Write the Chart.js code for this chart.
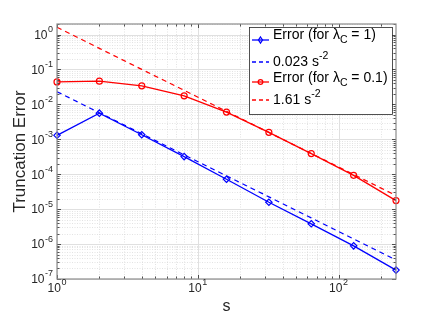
<!DOCTYPE html>
<html>
<head>
<meta charset="utf-8">
<script src="https://cdn.jsdelivr.net/npm/chart.js@4"></script>
<style>
  html, body { margin: 0; padding: 0; background: #fff; }
  #wrap { width: 437px; height: 315px; }
</style>
</head>
<body>
<div id="wrap"><canvas id="truncChart" width="437" height="315"></canvas></div>
<script>
// data
var sVals = [1, 2, 4, 8, 16, 32, 64, 128, 256];
var errLam1 = [1.3e-3, 5.6e-3, 1.35e-3, 3.2e-4, 7.2e-5, 1.58e-5, 3.8e-6, 8.9e-7, 1.8e-7];
var fitLam1 = [0.023, 5.75e-3, 1.44e-3, 3.59e-4, 8.98e-5, 2.25e-5, 5.6e-6, 1.4e-6, 3.5e-7];
var errLam01 = [0.044, 0.046, 0.034, 0.0176, 0.006, 1.58e-3, 3.9e-4, 9.3e-5, 1.76e-5];
var fitLam01 = [1.61, 0.4025, 0.1006, 0.0252, 6.29e-3, 1.57e-3, 3.93e-4, 9.83e-5, 2.46e-5];
var xDecades = [0, 1, 2];
var yDecades = [-7, -6, -5, -4, -3, -2, -1, 0];

var FONT = '"Liberation Sans", Arial, sans-serif';

function pts(ys) {
  var out = [];
  for (var i = 0; i < sVals.length; i++) out.push({x: sVals[i], y: ys[i]});
  return out;
}

// draws "10" with a raised exponent, anchored on its right or center
function powLabel(ctx, exp, x, y, align) {
  ctx.font = '12px ' + FONT;
  var base = '10';
  var bw = ctx.measureText(base).width;
  ctx.font = '9px ' + FONT;
  var ew = ctx.measureText(String(exp)).width;
  var total = bw + ew + 0.5;
  var left = align === 'right' ? x - total : x - total / 2;
  ctx.textBaseline = 'middle';
  ctx.textAlign = 'left';
  ctx.font = '12px ' + FONT;
  ctx.fillText(base, left, y);
  ctx.font = '9px ' + FONT;
  ctx.fillText(String(exp), left + bw + 0.5, y - 6);
}

// text with sub/sup pieces: parts = [[text, 'n'|'sub'|'sup'], ...]
function richText(ctx, parts, x, y) {
  ctx.textBaseline = 'middle';
  ctx.textAlign = 'left';
  var cx = x;
  parts.forEach(function(p) {
    var dy = 0;
    if (p[1] === 'n') ctx.font = '14px ' + FONT;
    else { ctx.font = '10.5px ' + FONT; dy = p[1] === 'sub' ? 5 : -6; }
    ctx.fillText(p[0], cx, y + dy);
    cx += ctx.measureText(p[0]).width;
  });
}

var matlabLook = {
  id: 'matlabLook',
  beforeDatasetsDraw: function(chart) {
    var ctx = chart.ctx, a = chart.chartArea;
    var xs = chart.scales.x, ys = chart.scales.y;
    ctx.save();
    // minor grid, dotted
    ctx.strokeStyle = '#d0d0d0';
    ctx.lineWidth = 0.6;
    ctx.setLineDash([1, 1.5]);
    xDecades.forEach(function(d) {
      for (var m = 2; m <= 9; m++) {
        var v = m * Math.pow(10, d);
        if (v >= xs.min && v <= xs.max) {
          var px = Math.round(xs.getPixelForValue(v)) + 0.5;
          ctx.beginPath(); ctx.moveTo(px, a.top); ctx.lineTo(px, a.bottom); ctx.stroke();
        }
      }
    });
    yDecades.forEach(function(d) {
      for (var m = 2; m <= 9; m++) {
        var v = m * Math.pow(10, d);
        if (v >= ys.min && v <= ys.max) {
          var py = Math.round(ys.getPixelForValue(v)) + 0.5;
          ctx.beginPath(); ctx.moveTo(a.left, py); ctx.lineTo(a.right, py); ctx.stroke();
        }
      }
    });
    // major grid
    ctx.setLineDash([]);
    ctx.strokeStyle = '#e0e0e0';
    ctx.lineWidth = 1;
    xDecades.forEach(function(d) {
      var px = Math.round(xs.getPixelForValue(Math.pow(10, d))) + 0.5;
      ctx.beginPath(); ctx.moveTo(px, a.top); ctx.lineTo(px, a.bottom); ctx.stroke();
    });
    yDecades.forEach(function(d) {
      var py = Math.round(ys.getPixelForValue(Math.pow(10, d))) + 0.5;
      ctx.beginPath(); ctx.moveTo(a.left, py); ctx.lineTo(a.right, py); ctx.stroke();
    });
    ctx.restore();
  },
  afterDatasetsDraw: function(chart) {
    var ctx = chart.ctx, a = chart.chartArea;
    var xs = chart.scales.x, ys = chart.scales.y;
    ctx.save();
    // ticks pointing inward on all sides
    ctx.strokeStyle = '#262626';
    ctx.lineWidth = 0.8;
    xDecades.forEach(function(d) {
      for (var m = 1; m <= 9; m++) {
        var v = m * Math.pow(10, d);
        if (v < xs.min || v > xs.max) continue;
        var len = m === 1 ? 4 : 2.5;
        var px = Math.round(xs.getPixelForValue(v)) + 0.5;
        ctx.beginPath();
        ctx.moveTo(px, a.bottom); ctx.lineTo(px, a.bottom - len);
        ctx.moveTo(px, a.top); ctx.lineTo(px, a.top + len);
        ctx.stroke();
      }
    });
    yDecades.forEach(function(d) {
      for (var m = 1; m <= 9; m++) {
        var v = m * Math.pow(10, d);
        if (v < ys.min || v > ys.max) continue;
        var len = m === 1 ? 4 : 2.5;
        var py = Math.round(ys.getPixelForValue(v)) + 0.5;
        ctx.beginPath();
        ctx.moveTo(a.left, py); ctx.lineTo(a.left + len, py);
        ctx.moveTo(a.right, py); ctx.lineTo(a.right - len, py);
        ctx.stroke();
      }
    });
    // axes box
    ctx.strokeStyle = '#8c8c8c';
    ctx.lineWidth = 1.2;
    ctx.strokeRect(a.left, a.top, a.right - a.left, a.bottom - a.top);

    // tick labels
    ctx.fillStyle = '#262626';
    xDecades.forEach(function(d) {
      powLabel(ctx, d, xs.getPixelForValue(Math.pow(10, d)), a.bottom + 10, 'center');
    });
    yDecades.forEach(function(d) {
      powLabel(ctx, d, a.left - 4, ys.getPixelForValue(Math.pow(10, d)) + 1, 'right');
    });

    // axis titles
    ctx.font = '16px ' + FONT;
    ctx.textAlign = 'center';
    ctx.textBaseline = 'middle';
    ctx.fillText('s', (a.left + a.right) / 2, 307);
    ctx.save();
    ctx.translate(20, (a.top + a.bottom) / 2);
    ctx.rotate(-Math.PI / 2);
    ctx.font = '17px ' + FONT;
    ctx.fillText('Truncation Error', 0, 0);
    ctx.restore();

    // legend box
    var lx = 249, ly = 27, lw = 143, lh = 87;
    ctx.fillStyle = '#fff';
    ctx.fillRect(lx, ly, lw, lh);
    ctx.strokeStyle = '#262626';
    ctx.lineWidth = 0.8;
    ctx.strokeRect(lx + 0.5, ly + 0.5, lw, lh);

    var rows = [
      {color: '#0000ff', dash: [], marker: 'diamond', y: 40, ty: 35,
       parts: [['Error (for ', 'n'], ['\u03bb', 'n'], ['C', 'sub'], [' = 1)', 'n']]},
      {color: '#0000ff', dash: [4, 3], marker: null, y: 62, ty: 62,
       parts: [['0.023 s', 'n'], ['-2', 'sup']]},
      {color: '#ff0000', dash: [], marker: 'circle', y: 82, ty: 78,
       parts: [['Error (for ', 'n'], ['\u03bb', 'n'], ['C', 'sub'], [' = 0.1)', 'n']]},
      {color: '#ff0000', dash: [4, 3], marker: null, y: 100, ty: 100,
       parts: [['1.61 s', 'n'], ['-2', 'sup']]}
    ];
    rows.forEach(function(r) {
      ctx.strokeStyle = r.color;
      ctx.lineWidth = 1.3;
      ctx.setLineDash(r.dash);
      ctx.beginPath();
      ctx.moveTo(lx + 3, r.y); ctx.lineTo(lx + 20, r.y);
      ctx.stroke();
      ctx.setLineDash([]);
      if (r.marker === 'diamond') {
        var cx = lx + 11.5;
        ctx.beginPath();
        ctx.moveTo(cx, r.y - 3); ctx.lineTo(cx + 2, r.y);
        ctx.lineTo(cx, r.y + 3); ctx.lineTo(cx - 2, r.y); ctx.closePath();
        ctx.stroke();
      } else if (r.marker === 'circle') {
        ctx.beginPath();
        ctx.arc(lx + 11.5, r.y, 2.3, 0, Math.PI * 2);
        ctx.stroke();
      }
      ctx.fillStyle = '#000';
      richText(ctx, r.parts, lx + 24, r.ty);
    });
    ctx.restore();
  }
};

function noSize(scale) {
  if (scale.isHorizontal()) scale.height = 0; else scale.width = 0;
}

var ctx = document.getElementById('truncChart');
var truncChart = new Chart(ctx, {
  type: 'line',
  data: {
    datasets: [
      {
        label: 'Error (for lambda_C = 1)',
        data: pts(errLam1),
        borderColor: '#0000ff',
        backgroundColor: 'rgba(0,0,0,0)',
        borderWidth: 1.3,
        pointStyle: 'rectRot',
        pointRadius: 3.2,
        pointBorderWidth: 1.2,
        pointBorderColor: '#0000ff',
        pointBackgroundColor: 'rgba(0,0,0,0)',
        tension: 0,
        clip: false
      },
      {
        label: '0.023 s^-2',
        data: pts(fitLam1),
        borderColor: '#0000ff',
        borderWidth: 1.3,
        borderDash: [5, 4],
        pointRadius: 0,
        tension: 0,
        clip: false
      },
      {
        label: 'Error (for lambda_C = 0.1)',
        data: pts(errLam01),
        borderColor: '#ff0000',
        backgroundColor: 'rgba(0,0,0,0)',
        borderWidth: 1.3,
        pointStyle: 'circle',
        pointRadius: 3,
        pointBorderWidth: 1.2,
        pointBorderColor: '#ff0000',
        pointBackgroundColor: 'rgba(0,0,0,0)',
        tension: 0,
        clip: false
      },
      {
        label: '1.61 s^-2',
        data: pts(fitLam01),
        borderColor: '#ff0000',
        borderWidth: 1.3,
        borderDash: [5, 4],
        pointRadius: 0,
        tension: 0,
        clip: false
      }
    ]
  },
  options: {
    responsive: false,
    animation: false,
    layout: { padding: { left: 57, top: 24, right: 41, bottom: 36 } },
    plugins: { legend: { display: false }, tooltip: { enabled: false } },
    scales: {
      x: {
        type: 'logarithmic', min: 1, max: 256,
        ticks: { display: false },
        grid: { display: false },
        border: { display: false },
        title: { display: false },
        afterFit: noSize
      },
      y: {
        type: 'logarithmic', min: 1e-7, max: 2,
        ticks: { display: false },
        grid: { display: false },
        border: { display: false },
        title: { display: false },
        afterFit: noSize
      }
    }
  },
  plugins: [matlabLook]
});
</script>
</body>
</html>
